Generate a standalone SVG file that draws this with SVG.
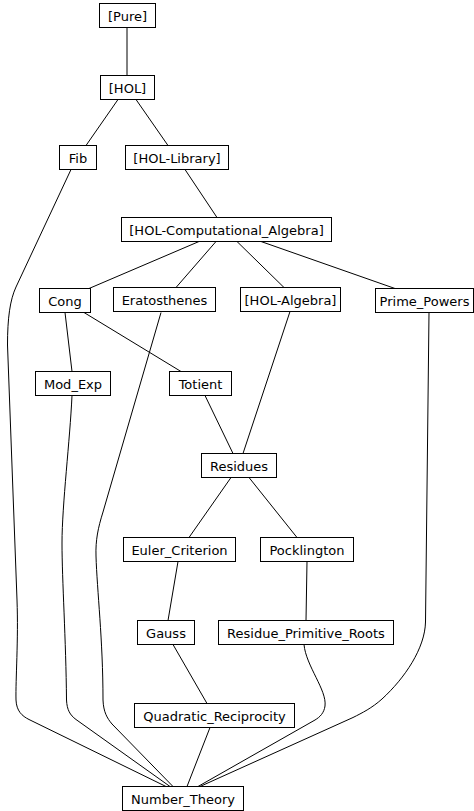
<svg xmlns="http://www.w3.org/2000/svg" width="474" height="811" viewBox="0 0 474 811">
<style>
rect.n{fill:#fff;stroke:#000;stroke-width:1}
text{font-family:"DejaVu Sans",sans-serif;font-size:13px;text-anchor:middle;fill:#000}
#edges path{fill:none;stroke:#000;stroke-width:1}
</style>
<rect width="474" height="811" fill="#fff"/>
<g id="edges">
<path d="M127,27.5 L127,75.5"/>
<path d="M118,99.5 L86,145.5"/>
<path d="M136,99.5 L168,145.5"/>
<path d="M185,169.5 L217,217.5"/>
<path d="M199,241.5 L89,288.5"/>
<path d="M216,241.5 L176,287.5"/>
<path d="M237,241.5 L284,287.5"/>
<path d="M261,241.5 L395,288.5"/>
<path d="M65,312.5 L72,371.5"/>
<path d="M84,312.5 L181,371.5"/>
<path d="M290,311.5 L243,453.5"/>
<path d="M205,395.5 L233,453.5"/>
<path d="M231,477.5 L189,537.5"/>
<path d="M249,477.5 L297,537.5"/>
<path d="M178,561.5 L168,620.5"/>
<path d="M307,561.5 L306,620.5"/>
<path d="M173,644.5 L207,703.5"/>
<path d="M210,727.5 L187,786.5"/>
<path d="M71,169.5 L16,287 C10,300 7.5,318 7.5,345 L17,600 C18.5,640 15.5,680 16,700 C16.5,711 22,716 29,719.5 L166,786.5"/>
<path d="M72,395.5 C70,440 62,505 62,543 C62,580 66,640 66.5,700 C67,710 70,715 76,719.5 L170,786.5"/>
<path d="M161,312.5 L103,512 C98,528 95.5,540 96,556 C97,590 103,640 103,700 C103.5,712 107,718 112,724 L173,786.5"/>
<path d="M429,312.5 L425.5,622 C425,648 405,678 382,699 C372,708 362,713 353,717.5 L200,786.5"/>
<path d="M304,644.5 C306,666 327,690 325,706 C324,713 320,717 315,720 L198,786.5"/>
</g>
<g id="n-pure"><rect class="n" x="99.5" y="3.5" width="56" height="24"/><text x="127.5" y="20.5">[Pure]</text></g>
<g id="n-hol"><rect class="n" x="100.5" y="75.5" width="54" height="24"/><text x="127.5" y="92.5">[HOL]</text></g>
<g id="n-fib"><rect class="n" x="59.5" y="145.5" width="37" height="24"/><text x="78" y="162.5">Fib</text></g>
<g id="n-hol-library"><rect class="n" x="125.5" y="145.5" width="103" height="24"/><text x="177" y="162.5">[HOL-Library]</text></g>
<g id="n-hol-ca"><rect class="n" x="121.5" y="217.5" width="210" height="24"/><text x="226.5" y="234.5">[HOL-Computational_Algebra]</text></g>
<g id="n-cong"><rect class="n" x="39.5" y="288.5" width="51" height="24"/><text x="65" y="305.5">Cong</text></g>
<g id="n-eratosthenes"><rect class="n" x="113.5" y="287.5" width="102" height="24"/><text x="164.5" y="304.5">Eratosthenes</text></g>
<g id="n-hol-algebra"><rect class="n" x="240.5" y="287.5" width="100" height="24"/><text x="290.5" y="304.5">[HOL-Algebra]</text></g>
<g id="n-prime-powers"><rect class="n" x="375.5" y="288.5" width="98" height="24"/><text x="424.5" y="305.5">Prime_Powers</text></g>
<g id="n-mod-exp"><rect class="n" x="35.5" y="371.5" width="75" height="24"/><text x="73" y="388.5">Mod_Exp</text></g>
<g id="n-totient"><rect class="n" x="169.5" y="371.5" width="62" height="24"/><text x="200.5" y="388.5">Totient</text></g>
<g id="n-residues"><rect class="n" x="201.5" y="453.5" width="75" height="24"/><text x="239" y="470.5">Residues</text></g>
<g id="n-euler"><rect class="n" x="123.5" y="537.5" width="112" height="24"/><text x="179.5" y="554.5">Euler_Criterion</text></g>
<g id="n-pocklington"><rect class="n" x="260.5" y="537.5" width="93" height="24"/><text x="307" y="554.5">Pocklington</text></g>
<g id="n-gauss"><rect class="n" x="137.5" y="620.5" width="57" height="24"/><text x="166" y="637.5">Gauss</text></g>
<g id="n-rpr"><rect class="n" x="218.5" y="620.5" width="175" height="24"/><text x="306" y="637.5">Residue_Primitive_Roots</text></g>
<g id="n-qr"><rect class="n" x="134.5" y="703.5" width="160" height="24"/><text x="214.5" y="720.5">Quadratic_Reciprocity</text></g>
<g id="n-nt"><rect class="n" x="122.5" y="786.5" width="121" height="24"/><text x="183" y="803.5">Number_Theory</text></g>
</svg>
